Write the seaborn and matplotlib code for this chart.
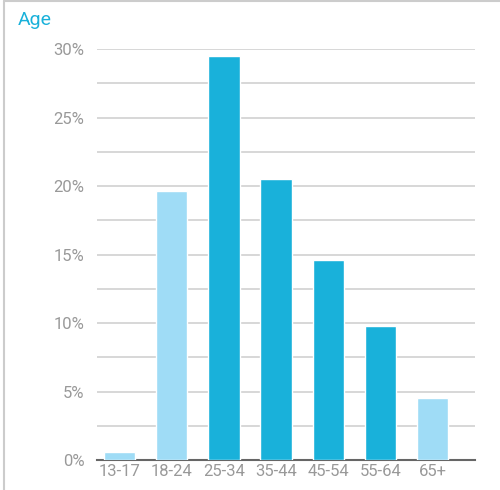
import matplotlib
matplotlib.use("Agg")
import matplotlib.pyplot as plt
import seaborn as sns
import pandas as pd
from matplotlib.lines import Line2D

ages = ["13-17", "18-24", "25-34", "35-44", "45-54", "55-64", "65+"]
shares = [0.55, 19.6, 29.5, 20.5, 14.6, 9.8, 4.5]
highlight = [False, False, True, True, True, True, False]
yticks = [0, 5, 10, 15, 20, 25, 30]

dark = "#19b1da"
light = "#9fdcf6"

df = pd.DataFrame({"age": ages, "share": shares})
colors = [dark if h else light for h in highlight]

sns.set_style("white")
plt.rcParams["font.family"] = ["Roboto", "DejaVu Sans"]

fig = plt.figure(figsize=(5, 4.9), dpi=100)
ax = fig.add_axes([0.194, 0.0612, 0.756, 0.8388])

sns.barplot(data=df, x="age", y="share", hue="age", palette=colors,
            legend=False, width=0.6, saturation=1, ax=ax, zorder=3)

grid_levels = [i * 2.5 for i in range(13)]
ax.set_ylim(0, 30)
ax.set_xlim(-0.43, 6.81)
ax.set_yticks(grid_levels)
ax.set_yticklabels([f"{int(v)}%" if v in yticks else "" for v in grid_levels])
ax.yaxis.grid(True, color="#d4d4d4", linewidth=1.3, zorder=0)
ax.xaxis.grid(False)
ax.set_axisbelow(True)

for s in ["top", "right", "left"]:
    ax.spines[s].set_visible(False)
ax.spines["bottom"].set_color("#666666")
ax.spines["bottom"].set_linewidth(1.5)

ax.tick_params(axis="y", length=0, pad=9, labelsize=12, labelcolor="#999999")
ax.tick_params(axis="x", length=0, pad=3, labelsize=12, labelcolor="#999999")
ax.set_xlabel("")
ax.set_ylabel("")

fig.text(18 / 500, 1 - 20 / 490, "Age", color=dark, fontsize=14, va="center", ha="left")

# outer frame (left and top edges)
fig.add_artist(Line2D([4 / 500, 4 / 500], [0, 1 - 1 / 490], transform=fig.transFigure,
                      color="#cccccc", linewidth=1.5))
fig.add_artist(Line2D([4 / 500, 1], [1 - 1 / 490, 1 - 1 / 490], transform=fig.transFigure,
                      color="#cccccc", linewidth=1.5))

fig.savefig("out.png", dpi=100)
